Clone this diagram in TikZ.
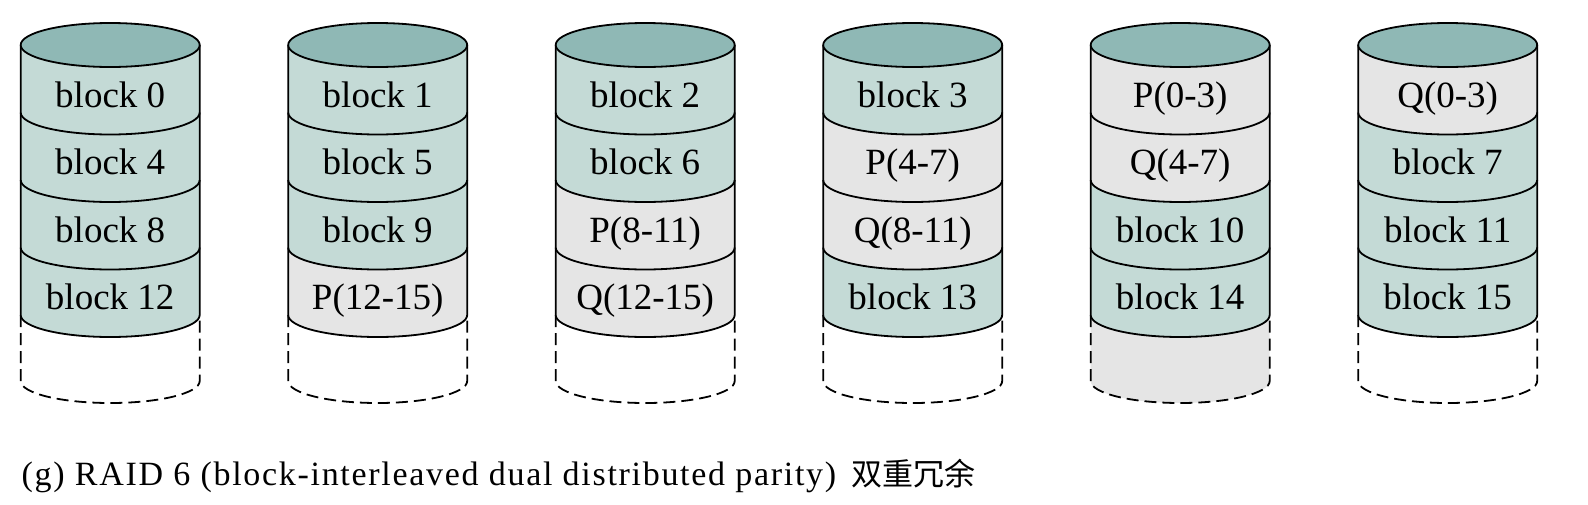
\documentclass[tikz,border=0pt]{standalone}
\usepackage{fontspec}
\setmainfont{Liberation Serif}
\newfontfamily\cjkfont{Noto Sans CJK SC}
\newfontfamily\capfont[LetterSpace=5]{Liberation Serif}
\definecolor{topc}{HTML}{8FB8B5}
\definecolor{datac}{HTML}{C4DAD6}
\definecolor{parc}{HTML}{E5E5E5}
\tikzset{
  outline/.style={draw=black, line width=1.8pt},
  dashline/.style={draw=black, line width=1.8pt, dash pattern=on 12pt off 6pt},
  bandtext/.style={anchor=base, inner sep=0pt, font=\fontsize{37}{44}\selectfont},
  captext/.style={anchor=base west, inner sep=0pt, font=\capfont\fontsize{34}{40}\selectfont}
}
\newcommand\diskcyl[3]{%
  \pgfmathsetmacro\cx{110.2+267.5*#1}%
  % dashed empty part
  \fill[#3] ({\cx-89.5},-315) -- ({\cx-89.5},-381)
     arc[start angle=180,end angle=360,x radius=89.5,y radius=22]
     -- ({\cx+89.5},-315)
     arc[start angle=0,end angle=-180,x radius=89.5,y radius=22] -- cycle;
  \draw[dashline] ({\cx-89.5},-315) -- ({\cx-89.5},-381)
     arc[start angle=180,end angle=360,x radius=89.5,y radius=22]
     -- ({\cx+89.5},-315);
  % band fills
  \foreach \c/\t [count=\k from 0] in {#2} {
    \pgfmathsetmacro\ytop{45+67.5*\k}
    \pgfmathsetmacro\ybot{45+67.5*(\k+1)}
    \fill[\c] ({\cx-89.5},-\ytop)
       arc[start angle=180,end angle=360,x radius=89.5,y radius=22]
       -- ({\cx+89.5},-\ybot)
       arc[start angle=0,end angle=-180,x radius=89.5,y radius=22] -- cycle;
  }
  % band outlines and labels
  \foreach \c/\t [count=\k from 0] in {#2} {
    \pgfmathsetmacro\ytop{45+67.5*\k}
    \pgfmathsetmacro\ybot{45+67.5*(\k+1)}
    \draw[outline] ({\cx-89.5},-\ytop) -- ({\cx-89.5},-\ybot)
       arc[start angle=180,end angle=360,x radius=89.5,y radius=22]
       -- ({\cx+89.5},-\ytop);
    \node[bandtext] (d#1b\k) at ({\cx},{-(\ytop+62)}) {\t};
  }
  % top
  \filldraw[outline, fill=topc] ({\cx},-45) ellipse[x radius=89.5, y radius=22];
}
\begin{document}
\begin{tikzpicture}[x=1pt,y=1pt]
\useasboundingbox (0,0) rectangle (1588,-504);
\fill[white] (0,0) rectangle (1588,-504);
\diskcyl{0}{datac/block 0, datac/block 4, datac/block 8, datac/block 12}{white}
\diskcyl{1}{datac/block 1, datac/block 5, datac/block 9, parc/P(12-15)}{white}
\diskcyl{2}{datac/block 2, datac/block 6, parc/P(8-11), parc/Q(12-15)}{white}
\diskcyl{3}{datac/block 3, parc/P(4-7), parc/Q(8-11), datac/block 13}{white}
\diskcyl{4}{parc/P(0-3), parc/Q(4-7), datac/block 10, datac/block 14}{parc}
\diskcyl{5}{parc/Q(0-3), datac/block 7, datac/block 11, datac/block 15}{white}
\node[captext] (cap) at (21.5,-485) {(g) RAID 6 (block-interleaved dual distributed parity)};
\node[anchor=base west, inner sep=0pt, font=\cjkfont\fontsize{31}{36}\selectfont] (capcn) at (851,-485) {双重冗余};
\end{tikzpicture}
\end{document}
